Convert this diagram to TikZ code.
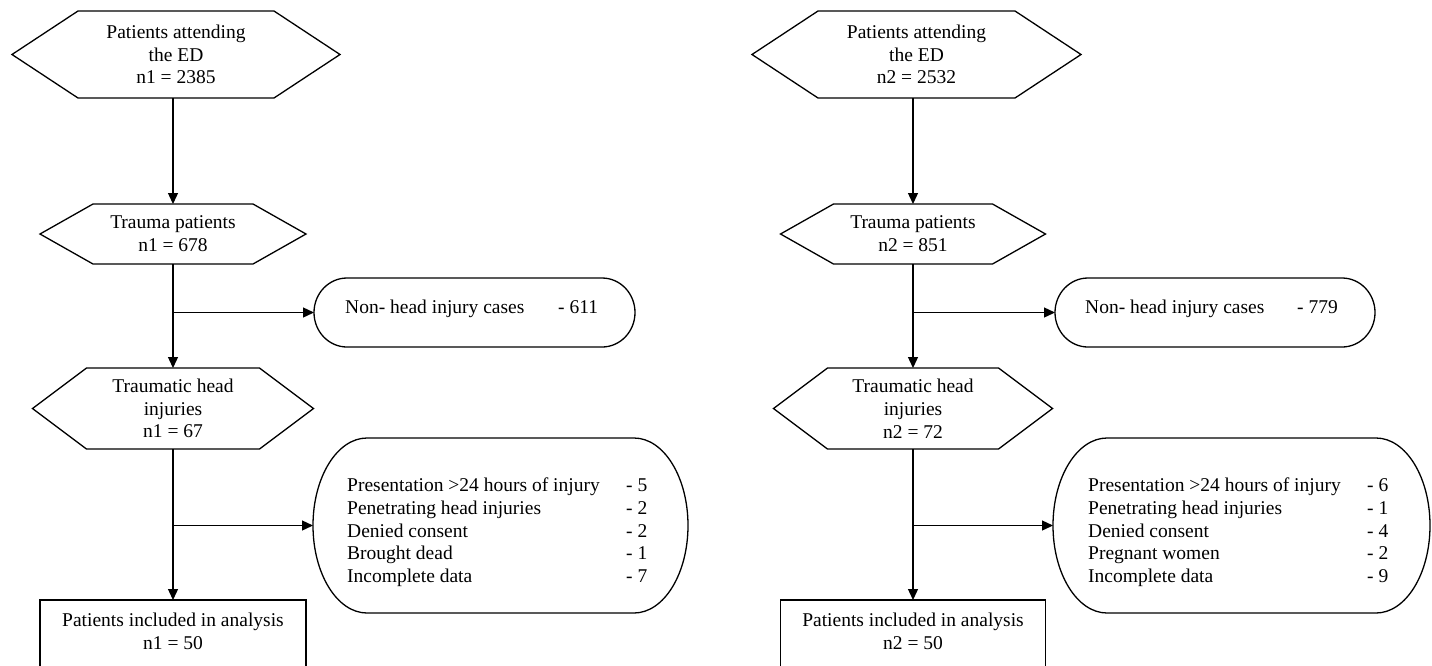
\documentclass[tikz,border=0pt]{standalone}
\usepackage{fontspec}
\setmainfont{Liberation Serif}
\usetikzlibrary{arrows.meta}
\newcommand\hexout[2]{\draw[outl] (#1.west) -- ([xshift=#2pt]#1.north west) -- ([xshift=-#2pt]#1.north east) -- (#1.east) -- ([xshift=-#2pt]#1.south east) -- ([xshift=#2pt]#1.south west) -- cycle;}
\newcommand\stadout[3]{\draw[outl] ([xshift=#2pt]#1.north west) -- ([xshift=-#2pt]#1.north east) arc[start angle=90,end angle=-90,x radius=#2pt,y radius=#3pt] -- ([xshift=#2pt]#1.south west) arc[start angle=270,end angle=90,x radius=#2pt,y radius=#3pt] -- cycle;}
\begin{document}
\begin{tikzpicture}[x=1pt,y=-1pt,
  every node/.style={font=\fontsize{19.5pt}{22.8pt}\selectfont},
  outl/.style={line width=1.3pt},
  arr/.style={line width=1.3pt,-{Triangle[length=11pt,width=10pt]}},
  shp/.style={inner sep=0pt,outer sep=0pt,align=center}]
\useasboundingbox (0,0) rectangle (1432,665);
\clip (0,0) rectangle (1432,665);
% ---------- left column ----------
\node[shp,minimum width=328pt,minimum height=87pt] (h1) at (176,54.5) {Patients attending\\the ED\\n1 = 2385};
\node[shp,minimum width=266pt,minimum height=60pt] (h2) at (173,234) {Trauma patients\\n1 = 678};
\node[shp,minimum width=281pt,minimum height=81pt] (h3) at (173,408.5) {Traumatic head\\injuries\\n1 = 67};
\node[shp,minimum width=266pt,minimum height=62pt] (r1) at (173,631) {Patients included in analysis\\n1 = 50};
\node[shp,minimum width=321pt,minimum height=69pt] (nh1) at (474.5,312.5) {};
\node[anchor=west,inner sep=0pt] (nh1t) at (345,308.5) {\makebox[213pt][l]{Non- head injury cases}- 611};
\node[shp,minimum width=375pt,minimum height=175pt] (ex1) at (500.5,525.5) {};
\node[anchor=base west,inner sep=0pt] (ex1t) at (347,491.5) {\begin{tabular}[t]{@{}l@{}}
\makebox[279pt][l]{Presentation >24 hours of injury}- 5\\
\makebox[279pt][l]{Penetrating head injuries}- 2\\
\makebox[279pt][l]{Denied consent}- 2\\
\makebox[279pt][l]{Brought dead}- 1\\
\makebox[279pt][l]{Incomplete data}- 7
\end{tabular}};
\hexout{h1}{66}
\hexout{h2}{53}
\hexout{h3}{54}
\stadout{nh1}{33}{34.5}
\stadout{ex1}{54}{87.5}
\draw[outl] ([yshift=-30pt]r1.south west) |- (r1.north east) -- ([yshift=-30pt]r1.south east);
\draw[arr] (h1.south -| h2.north) -- (h2.north);
\draw[arr] (h2.south) -- (h3.north);
\draw[arr] (h3.south) -- (r1.north);
\draw[arr] (h2.south |- nh1.west) -- (nh1.west);
\draw[arr] (h3.south |- ex1.west) -- (ex1.west);
% ---------- right column ----------
\node[shp,minimum width=329pt,minimum height=87pt] (h1b) at (916.5,54.5) {Patients attending\\the ED\\n2 = 2532};
\node[shp,minimum width=265pt,minimum height=60pt] (h2b) at (913,234) {Trauma patients\\n2 = 851};
\node[shp,minimum width=279pt,minimum height=81pt] (h3b) at (913,408.5) {Traumatic head\\injuries\\n2 = 72};
\node[shp,minimum width=265pt,minimum height=62pt] (r1b) at (913,631) {Patients included in analysis\\n2 = 50};
\node[shp,minimum width=320pt,minimum height=69pt] (nh1b) at (1215,312.5) {};
\node[anchor=west,inner sep=0pt] (nh1bt) at (1085,308.5) {\makebox[212pt][l]{Non- head injury cases}- 779};
\node[shp,minimum width=377pt,minimum height=175pt] (ex1b) at (1241.5,525.5) {};
\node[anchor=base west,inner sep=0pt] (ex1bt) at (1088,491.5) {\begin{tabular}[t]{@{}l@{}}
\makebox[279pt][l]{Presentation >24 hours of injury}- 6\\
\makebox[279pt][l]{Penetrating head injuries}- 1\\
\makebox[279pt][l]{Denied consent}- 4\\
\makebox[279pt][l]{Pregnant women}- 2\\
\makebox[279pt][l]{Incomplete data}- 9
\end{tabular}};
\hexout{h1b}{66}
\hexout{h2b}{53}
\hexout{h3b}{54}
\stadout{nh1b}{33}{34.5}
\stadout{ex1b}{54}{87.5}
\draw[outl] ([yshift=-30pt]r1b.south west) |- (r1b.north east) -- ([yshift=-30pt]r1b.south east);
\draw[arr] (h1b.south -| h2b.north) -- (h2b.north);
\draw[arr] (h2b.south) -- (h3b.north);
\draw[arr] (h3b.south) -- (r1b.north);
\draw[arr] (h2b.south |- nh1b.west) -- (nh1b.west);
\draw[arr] (h3b.south |- ex1b.west) -- (ex1b.west);
\end{tikzpicture}
\end{document}
